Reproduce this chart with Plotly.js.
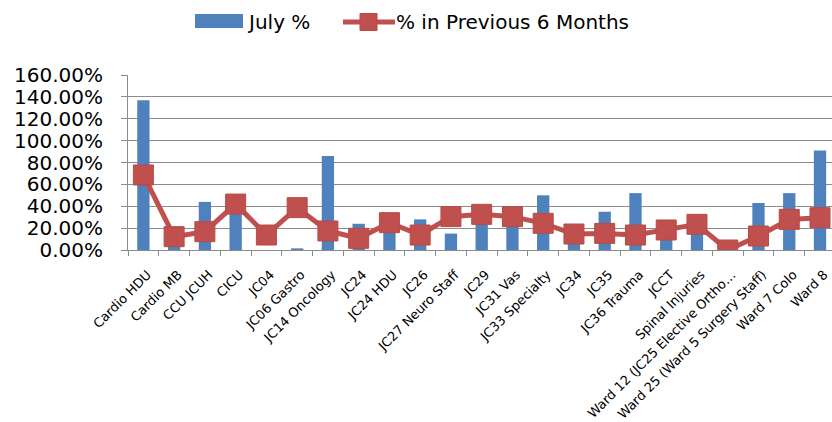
<!DOCTYPE html>
<html>
<head>
<meta charset="utf-8">
<script src="https://cdn.plot.ly/plotly-3.0.1.min.js"></script>
<style>
  html, body { margin: 0; padding: 0; background: #ffffff; }
  #chart { width: 832px; height: 422px; }
</style>
</head>
<body>
<div id="chart"></div>
<script>
// Wards / units on the category axis
const units = [
  "Cardio HDU", "Cardio MB", "CCU JCUH", "CICU", "JC04", "JC06 Gastro",
  "JC14 Oncology", "JC24", "JC24 HDU", "JC26", "JC27 Neuro Staff", "JC29",
  "JC31 Vas", "JC33 Specialty", "JC34", "JC35", "JC36 Trauma", "JCCT",
  "Spinal Injuries", "Ward 12 (JC25 Elective Ortho…",
  "Ward 25 (Ward 5 Surgery Staff)", "Ward 7 Colo", "Ward 8"
];

// July rate per unit (fraction, 1 = 100%)
const julyPct = [
  1.37, 0.10, 0.44, 0.36, 0.00, 0.015,
  0.86, 0.24, 0.20, 0.28, 0.15, 0.30,
  0.26, 0.50, 0.14, 0.35, 0.52, 0.16,
  0.22, 0.00, 0.43, 0.52, 0.91
];

// Rate over the previous six months per unit
const prev6Pct = [
  0.686, 0.122, 0.168, 0.42, 0.137, 0.387,
  0.174, 0.107, 0.25, 0.137, 0.305, 0.326,
  0.305, 0.244, 0.146, 0.152, 0.137, 0.183,
  0.235, 0.0, 0.128, 0.28, 0.295
];

// Legend entries
const legendNames = ["July %", "% in Previous 6 Months"];

const blue = "#4F81BD";
const red = "#C0504D";
const gridGrey = "#8c8c8c";
const fontFam = "'DejaVu Sans', Verdana, sans-serif";

// Plot area in page pixels
const M = { l: 128, r: 0, t: 75, b: 172 };
const W = 832, H = 422;
const plotW = W - M.l - M.r, plotH = H - M.t - M.b;
const px = v => (v - M.l) / plotW;          // page x -> paper x
const py = v => (H - M.b - v) / plotH;      // page y -> paper y

const traces = [
  {
    type: "bar",
    name: legendNames[0],
    x: units,
    y: julyPct,
    width: 0.4,
    marker: { color: blue },
    showlegend: false
  },
  {
    type: "scatter",
    mode: "lines+markers",
    name: legendNames[1],
    x: units,
    y: prev6Pct,
    line: { color: red, width: 5 },
    marker: { symbol: "square", size: 20, color: red,
              line: { color: "#B84A47", width: 1 } },
    showlegend: false
  }
];

// Legend drawn at the top of the page
const legendY = 22;
const shapes = [
  { type: "rect", xref: "paper", yref: "paper",
    x0: px(195), x1: px(243), y0: py(28), y1: py(14),
    fillcolor: blue, line: { width: 0 } },
  { type: "line", xref: "paper", yref: "paper",
    x0: px(343), x1: px(395), y0: py(legendY), y1: py(legendY),
    line: { color: red, width: 5 } },
  { type: "rect", xref: "paper", yref: "paper",
    x0: px(360), x1: px(377), y0: py(legendY + 8.5), y1: py(legendY - 8.5),
    fillcolor: red, line: { color: "#B84A47", width: 1 } }
];
const annotations = [
  { xref: "paper", yref: "paper", x: px(245), y: py(legendY),
    xanchor: "left", yanchor: "middle", showarrow: false,
    text: legendNames[0], font: { family: fontFam, size: 20, color: "#000" } },
  { xref: "paper", yref: "paper", x: px(394), y: py(legendY),
    xanchor: "left", yanchor: "middle", showarrow: false,
    text: legendNames[1], font: { family: fontFam, size: 20, color: "#000" } }
];

const layout = {
  width: W,
  height: H,
  margin: M,
  paper_bgcolor: "#ffffff",
  plot_bgcolor: "#ffffff",
  font: { family: fontFam, color: "#000000", size: 13 },
  showlegend: false,
  shapes: shapes,
  annotations: annotations,
  xaxis: {
    type: "category",
    range: [-0.5, 22.39],
    showline: true,
    linecolor: gridGrey,
    linewidth: 1,
    ticks: "outside",
    tickson: "boundaries",
    ticklen: 5,
    tickcolor: gridGrey,
    tickangle: -45,
    ticklabelstandoff: 11,
    ticklabelshift: 4,
    tickfont: { family: fontFam, size: 13, color: "#000000" },
    showgrid: false,
    fixedrange: true
  },
  yaxis: {
    range: [0, 1.6],
    dtick: 0.2,
    tick0: 0,
    tickformat: ".2%",
    showgrid: true,
    gridcolor: gridGrey,
    gridwidth: 1,
    zeroline: false,
    showline: true,
    linecolor: gridGrey,
    ticks: "outside",
    ticklen: 6,
    tickcolor: gridGrey,
    ticklabelstandoff: 14,
    tickfont: { family: fontFam, size: 20, color: "#000000" },
    fixedrange: true
  }
};

Plotly.newPlot("chart", traces, layout, { displayModeBar: false, staticPlot: true });
</script>
</body>
</html>
